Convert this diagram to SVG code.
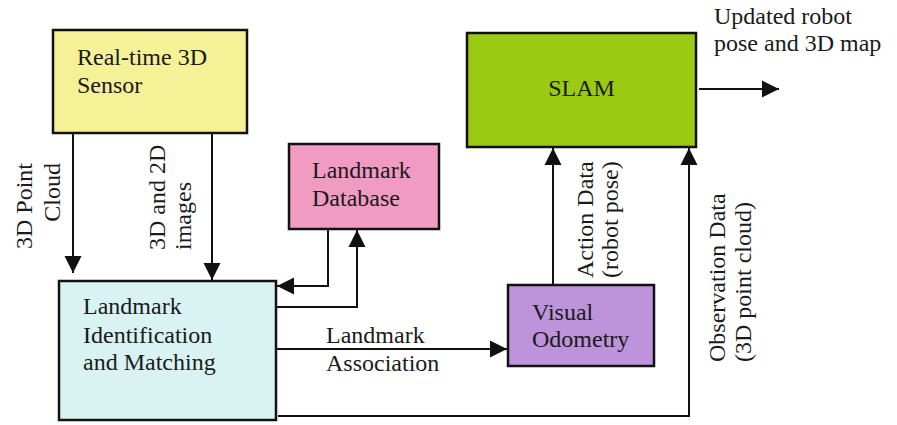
<svg xmlns="http://www.w3.org/2000/svg" width="897" height="425" viewBox="0 0 897 425">
  <style>
    .box { stroke: #111; stroke-width: 2.5; }
    .lbl { font-family: "Liberation Serif", "Times New Roman", serif; font-size: 24px; fill: #1a1a1a; }
    .wire { fill: none; stroke: #111; stroke-width: 2; }
  </style>
  <defs>
    <marker id="arrow" markerUnits="userSpaceOnUse" markerWidth="18" markerHeight="18" viewBox="0 0 18 18" refX="17" refY="9" orient="auto">
      <path d="M0,0.5 L17,9 L0,17.5 Z" fill="#111"/>
    </marker>
  </defs>

  <rect width="897" height="425" fill="#fff"/>

  <!-- Nodes -->
  <g id="sensor">
    <rect class="box" x="53" y="30" width="194" height="103" fill="#F5F197"/>
    <text class="lbl" x="77" y="65">Real-time 3D</text>
    <text class="lbl" x="77" y="93">Sensor</text>
  </g>

  <g id="landmark-db">
    <rect class="box" x="289" y="144" width="150" height="85" fill="#F19BC2"/>
    <text class="lbl" x="312" y="178">Landmark</text>
    <text class="lbl" x="312" y="206">Database</text>
  </g>

  <g id="landmark-id">
    <rect class="box" x="59" y="281" width="217" height="139" fill="#D9F3F3"/>
    <text class="lbl" x="83" y="314">Landmark</text>
    <text class="lbl" x="83" y="342.5">Identification</text>
    <text class="lbl" x="83" y="370">and Matching</text>
  </g>

  <g id="visual-odometry">
    <rect class="box" x="508" y="285" width="146" height="81" fill="#BD93DB"/>
    <text class="lbl" x="532" y="320">Visual</text>
    <text class="lbl" x="532" y="347">Odometry</text>
  </g>

  <g id="slam">
    <rect class="box" x="467" y="33" width="229" height="114" fill="#9ACB12"/>
    <text class="lbl" x="581.5" y="96" text-anchor="middle">SLAM</text>
  </g>

  <!-- Connectors -->
  <g id="connectors">
    <path class="wire" d="M73,133 V273" marker-end="url(#arrow)"/>
    <path class="wire" d="M212,133 V280" marker-end="url(#arrow)"/>
    <path class="wire" d="M328,229 V286 H277" marker-end="url(#arrow)"/>
    <path class="wire" d="M276,307 H357 V230" marker-end="url(#arrow)"/>
    <path class="wire" d="M276,349 H507" marker-end="url(#arrow)"/>
    <path class="wire" d="M553,285 V148" marker-end="url(#arrow)"/>
    <path class="wire" d="M278,416 H689 V148" marker-end="url(#arrow)"/>
    <path class="wire" d="M699,89 H779" marker-end="url(#arrow)"/>
  </g>

  <!-- Connector labels -->
  <g id="labels">
    <text class="lbl" transform="translate(31.5,163) rotate(-90)" text-anchor="end">3D Point</text>
    <text class="lbl" transform="translate(59.5,163) rotate(-90)" text-anchor="end">Cloud</text>
    <text class="lbl" transform="translate(165,250) rotate(-90)">3D and 2D</text>
    <text class="lbl" transform="translate(191,250) rotate(-90)">images</text>
    <text class="lbl" x="326" y="343">Landmark</text>
    <text class="lbl" x="326" y="371">Association</text>
    <text class="lbl" transform="translate(592.5,278) rotate(-90)">Action Data</text>
    <text class="lbl" transform="translate(617.5,278) rotate(-90)">(robot pose)</text>
    <text class="lbl" transform="translate(725,362) rotate(-90)">Observation Data</text>
    <text class="lbl" transform="translate(750.5,362) rotate(-90)">(3D point cloud)</text>
    <text class="lbl" x="714" y="23.5">Updated robot</text>
    <text class="lbl" x="714" y="50.5">pose and 3D map</text>
  </g>
</svg>
